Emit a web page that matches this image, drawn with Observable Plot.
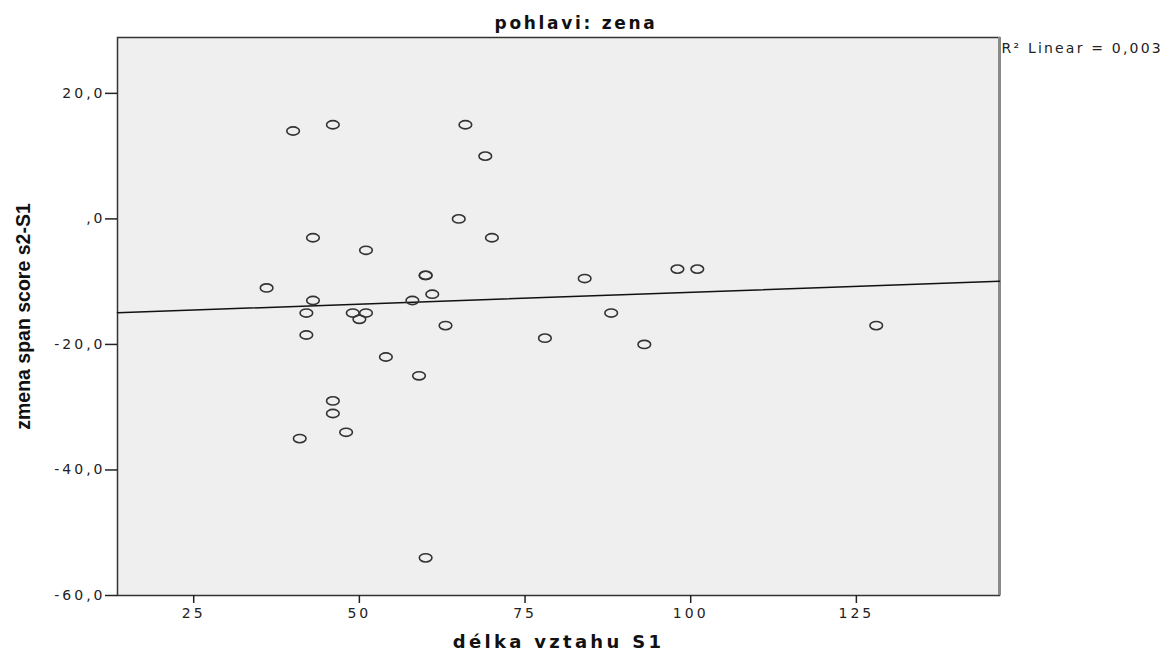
<!DOCTYPE html>
<html>
<head>
<meta charset="utf-8">
<script src="https://cdn.jsdelivr.net/npm/d3@7"></script>
<script src="https://cdn.jsdelivr.net/npm/@observablehq/plot@0.6"></script>
<style>
  body { margin: 0; background: #fff; }
  g[aria-label="y-axis tick label"] text { letter-spacing: 3px; }
  g[aria-label="x-axis tick label"] text { letter-spacing: 3px; }
  g[aria-description="title"] text { letter-spacing: 2.7px; }
  g[aria-description="xlabel"] text { letter-spacing: 3.3px; }
  g[aria-description="r2"] text { letter-spacing: 2.2px; }
</style>
</head>
<body>
<div id="chart"></div>
<script>
// délka vztahu S1 (x) and zmena span score s2-S1 (y)
const delka = [40, 46, 66, 69, 65, 43, 70, 51, 60, 60, 36, 43, 58, 61, 42, 49, 51, 50, 42, 63, 54, 59, 46, 46, 48, 41, 60, 78, 84, 88, 93, 98, 101, 128];
const zmena = [14, 15, 15, 10, 0, -3, -3, -5, -9, -9, -11, -13, -13, -12, -15, -15, -15, -16, -18.5, -17, -22, -25, -29, -31, -34, -35, -54, -19, -9.5, -15, -20, -8, -8, -17];
const xTicks = [25, 50, 75, 100, 125];
const yTicks = [20, 0, -20, -40, -60];
const xDomain = [13.5, 146.6];
const yDomain = [-60, 28.9];
const title = "pohlavi: zena";
const xLabel = "délka vztahu S1";
const yLabel = "zmena span score s2-S1";
const r2Label = "R² Linear = 0,003";

const data = delka.map((x, i) => ({x, y: zmena[i]}));
// least-squares fit drawn across the whole x domain (as SPSS does)
const mx = d3.mean(delka), my = d3.mean(zmena);
const slope = d3.sum(data, d => (d.x - mx) * (d.y - my)) / d3.sum(data, d => (d.x - mx) ** 2);
const intercept = my - slope * mx;
const fit = xDomain.map(x => ({x, y: intercept + slope * x}));

// open ellipse symbol (reference markers are wider than tall)
const ellipse = {
  draw(ctx) {
    const rx = 6.3, ry = 4.1, k = 0.5523;
    ctx.moveTo(rx, 0);
    ctx.bezierCurveTo(rx, ry * k, rx * k, ry, 0, ry);
    ctx.bezierCurveTo(-rx * k, ry, -rx, ry * k, -rx, 0);
    ctx.bezierCurveTo(-rx, -ry * k, -rx * k, -ry, 0, -ry);
    ctx.bezierCurveTo(rx * k, -ry, rx, -ry * k, rx, 0);
    ctx.closePath();
  }
};

const yFmt = d => d === 0 ? ",0" : d.toFixed(1).replace(".", ",");

const chart = Plot.plot({
  width: 1173,
  height: 652,
  marginLeft: 117,
  marginRight: 174,
  marginTop: 37,
  marginBottom: 57,
  style: {fontFamily: "DejaVu Sans", background: "#fff", color: "#222"},
  x: {domain: xDomain},
  y: {domain: yDomain},
  marks: [
    Plot.frame({fill: "#efefef"}),
    Plot.frame({stroke: "#333", strokeWidth: 1.5}),
    Plot.ruleX([xDomain[1]], {stroke: "#8a8a8a", strokeWidth: 3}),
    Plot.axisY({ticks: yTicks, tickSize: 12, tickPadding: 0, tickFormat: yFmt, fontSize: 14, stroke: "#222", strokeWidth: 1.5, label: null}),
    Plot.axisX({ticks: xTicks, tickSize: 8, tickPadding: 5, tickFormat: d => String(d), fontSize: 14, stroke: "#222", strokeWidth: 1.5, label: null}),
    Plot.line(fit, {x: "x", y: "y", stroke: "#111", strokeWidth: 1.5}),
    Plot.dot(data, {x: "x", y: "y", symbol: ellipse, r: 5, stroke: "#333", strokeWidth: 1.6, fill: "none"}),
    Plot.text([title], {frameAnchor: "top", lineAnchor: "middle", textAnchor: "middle", dx: 17.5, dy: -13.5, fontSize: 17, fontWeight: "bold", fill: "#111", ariaDescription: "title"}),
    Plot.text([xLabel], {frameAnchor: "bottom", lineAnchor: "middle", textAnchor: "middle", dy: 46.5, fontSize: 18, fontWeight: "bold", fill: "#111", ariaDescription: "xlabel"}),
    Plot.text([yLabel], {frameAnchor: "left", lineAnchor: "middle", textAnchor: "middle", rotate: -90, dx: -94, fontSize: 19.5, fontWeight: "bold", fontFamily: "Liberation Sans", fill: "#111", ariaDescription: "ylabel"}),
    Plot.text([r2Label], {frameAnchor: "top-right", textAnchor: "start", lineAnchor: "top", dx: 2, dy: 6, fontSize: 14, fill: "#222", ariaDescription: "r2"})
  ]
});
document.getElementById("chart").append(chart);
</script>
</body>
</html>
